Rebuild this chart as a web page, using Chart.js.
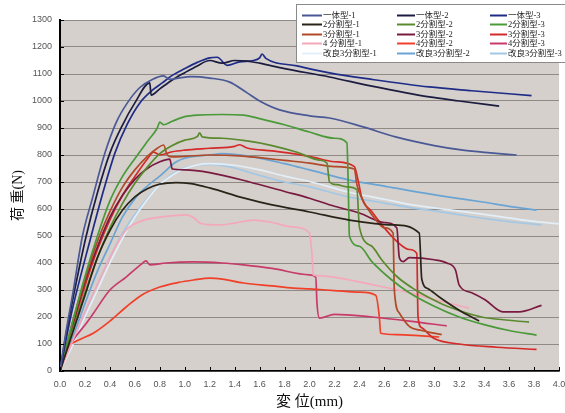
<!DOCTYPE html>
<html>
<head>
<meta charset="utf-8">
<script src="https://cdn.jsdelivr.net/npm/chart.js@4.4.1/dist/chart.umd.min.js"></script>
<style>
  html, body { margin: 0; padding: 0; background: #ffffff; }
  #wrap { width: 565px; height: 413px; position: relative; }
</style>
</head>
<body>
<div id="wrap"><canvas id="c" width="565" height="413"></canvas></div>
<script>
// Load–displacement curves (displacement in mm, load in N)

// 一体型
const disp_ittai_1 = [0,0.05,0.1,0.18,0.26,0.36,0.45,0.54,0.64,0.74,0.83,0.88,0.95,1.05,1.2,1.36,1.5,1.6,1.76,2.0,2.16,2.43,2.69,3.0,3.23,3.45,3.66];
const load_ittai_1 = [0,150,280,500,640,807,920,993,1050,1080,1093,1080,1085,1090,1085,1070,1030,1000,967,945,937,904,867,835,818,808,800];
const disp_ittai_2 = [0,0.05,0.1,0.21,0.3,0.4,0.5,0.6,0.72,0.73,0.8,0.9,1.0,1.1,1.2,1.3,1.4,1.5,1.6,1.8,2.16,2.5,2.96,3.2,3.52];
const load_ittai_2 = [0,140,260,500,660,807,910,993,1067,1022,1045,1078,1105,1130,1150,1140,1150,1148,1140,1120,1089,1055,1015,1000,981];
const disp_ittai_3 = [0,0.05,0.1,0.25,0.35,0.44,0.54,0.64,0.74,0.82,0.9,1.0,1.1,1.2,1.26,1.34,1.44,1.55,1.6,1.62,1.65,1.9,2.16,2.5,2.96,3.3,3.78];
const load_ittai_3 = [0,120,230,500,670,807,915,993,1040,1067,1095,1120,1143,1160,1162,1132,1145,1150,1160,1174,1158,1130,1104,1080,1052,1038,1020];

// 2分割型
const disp_bun2_1 = [0,0.05,0.1,0.2,0.3,0.4,0.5,0.6,0.7,0.8,0.93,1.05,1.2,1.47,1.7,2.0,2.32,2.67,2.88,2.9,2.95,3.04,3.2,3.36];
const load_bun2_1 = [0,70,140,280,420,520,595,645,675,692,698,694,678,641,615,589,559,541,511,340,305,274,225,185];
const disp_bun2_2 = [0,0.05,0.1,0.2,0.3,0.4,0.5,0.6,0.7,0.8,0.9,1.0,1.1,1.12,1.14,1.3,1.5,1.7,1.9,2.08,2.14,2.16,2.22,2.3,2.38,2.4,2.5,2.58,2.7,2.85,3.0,3.12,3.38,3.6,3.76];
const load_bun2_2 = [0,75,150,290,420,530,620,695,755,805,835,855,868,882,867,862,852,835,810,781,770,700,690,682,672,533,462,411,350,300,262,237,200,188,181];
const disp_bun2_3 = [0,0.05,0.1,0.2,0.3,0.4,0.5,0.61,0.7,0.78,0.8,0.83,0.9,1.0,1.1,1.3,1.47,1.6,1.8,2.0,2.2,2.3,2.31,2.32,2.4,2.5,2.66,2.8,3.0,3.2,3.4,3.6,3.82];
const load_bun2_3 = [0,90,180,350,500,630,720,793,850,900,922,912,925,942,948,950,948,935,912,885,862,845,700,500,462,405,337,290,240,200,172,150,133];

// 3分割型
const disp_bun3_1 = [0,0.05,0.1,0.2,0.3,0.4,0.5,0.6,0.7,0.78,0.83,0.86,0.9,1.0,1.2,1.44,1.6,1.8,2.0,2.2,2.36,2.38,2.42,2.53,2.6,2.67,2.68,2.72,2.8,2.9,3.0,3.06];
const load_bun3_1 = [0,90,180,340,480,590,680,745,795,825,837,800,793,795,800,797,790,780,770,757,748,690,640,560,530,511,300,215,165,150,140,135];
const disp_bun3_2 = [0,0.1,0.2,0.3,0.4,0.5,0.6,0.7,0.8,0.88,0.9,1.0,1.2,1.52,1.8,2.0,2.2,2.4,2.6,2.7,2.72,2.75,2.8,3.0,3.1,3.17,3.2,3.3,3.41,3.55,3.68,3.86];
const load_bun3_2 = [0,170,330,460,570,650,710,750,775,785,748,745,735,700,665,640,610,585,550,530,420,405,420,412,400,374,318,290,263,219,219,243];
const disp_bun3_3 = [0,0.05,0.1,0.2,0.3,0.4,0.5,0.6,0.7,0.75,0.8,0.9,1.0,1.2,1.4,1.44,1.5,1.7,2.0,2.2,2.36,2.39,2.42,2.5,2.6,2.7,2.8,2.86,2.87,2.9,3.0,3.2,3.5,3.82];
const load_bun3_3 = [0,80,160,315,450,560,650,720,785,811,800,812,818,825,832,838,826,815,795,775,757,705,640,590,530,480,450,435,200,160,120,100,88,80];

// 4分割型
const disp_bun4_1 = [0,0.05,0.1,0.2,0.3,0.4,0.53,0.65,0.8,0.9,1.01,1.08,1.12,1.2,1.28,1.4,1.55,1.7,1.87,2.0,2.02,2.03,2.1,2.24,2.5,2.8,3.0,3.28];
const load_bun4_1 = [0,55,110,220,320,420,522,555,570,575,578,565,548,542,541,548,559,550,533,511,430,356,352,344,320,290,265,233];
const disp_bun4_2 = [0,0.03,0.08,0.15,0.27,0.4,0.53,0.65,0.8,0.95,1.07,1.2,1.3,1.47,1.7,1.87,2.0,2.2,2.4,2.53,2.56,2.57,2.7,2.9,3.04];
const load_bun4_2 = [0,60,96,115,141,185,237,280,311,328,337,344,340,326,315,307,304,298,292,281,200,140,135,130,126];
const disp_bun4_3 = [0,0.05,0.1,0.2,0.27,0.4,0.53,0.65,0.69,0.72,0.85,1.07,1.3,1.47,1.7,2.0,2.05,2.06,2.08,2.2,2.5,2.8,3.1];
const load_bun4_3 = [0,60,110,170,215,300,348,395,408,393,400,404,400,393,380,356,348,250,196,210,200,185,167];

// 改良3分割型
const disp_kai3_1 = [0,0.1,0.2,0.3,0.4,0.5,0.6,0.7,0.8,0.9,1.0,1.2,1.4,1.6,1.8,2.0,2.32,2.6,2.8,3.12,3.4,3.7,4.0];
const load_kai3_1 = [0,95,200,300,400,490,570,635,690,725,750,768,762,745,722,702,662,636,617,597,580,560,545];
const disp_kai3_2 = [0,0.1,0.2,0.3,0.4,0.5,0.61,0.7,0.8,0.93,1.0,1.2,1.3,1.52,1.8,2.0,2.32,2.6,2.8,3.12,3.4,3.6,3.82];
const load_kai3_2 = [0,120,250,370,470,570,644,685,722,774,788,800,805,795,768,745,707,685,668,644,625,610,596];
const disp_kai3_3 = [0,0.1,0.2,0.3,0.4,0.5,0.67,0.8,0.9,1.0,1.2,1.4,1.52,1.8,2.0,2.32,2.6,2.8,3.12,3.4,3.6,3.86];
const load_kai3_3 = [0,105,215,320,420,510,622,690,730,752,765,752,735,700,682,644,622,606,585,565,553,541];

// Series names, in legend order (row by row, three per row)
const seriesNames = [
  '一体型-1', '一体型-2', '一体型-3',
  '2分割型-1', '2分割型-2', '2分割型-3',
  '3分割型-1', '3分割型-2', '3分割型-3',
  '4 分割型-1', '4分割型-2', '4分割型-3',
  '改良3分割型-1', '改良3分割型-2', '改良3分割型-3'
];
const seriesDisp = [
  disp_ittai_1, disp_ittai_2, disp_ittai_3,
  disp_bun2_1, disp_bun2_2, disp_bun2_3,
  disp_bun3_1, disp_bun3_2, disp_bun3_3,
  disp_bun4_1, disp_bun4_2, disp_bun4_3,
  disp_kai3_1, disp_kai3_2, disp_kai3_3
];
const seriesLoad = [
  load_ittai_1, load_ittai_2, load_ittai_3,
  load_bun2_1, load_bun2_2, load_bun2_3,
  load_bun3_1, load_bun3_2, load_bun3_3,
  load_bun4_1, load_bun4_2, load_bun4_3,
  load_kai3_1, load_kai3_2, load_kai3_3
];
const seriesColors = [
  '#4a5896', '#1c1c40', '#1e2c88',
  '#2a2418', '#5a8a2e', '#4a9a3a',
  '#b04a28', '#7a1a40', '#d42a2a',
  '#f4a8b8', '#f0402a', '#c83a6a',
  '#e2eff8', '#6aa4d4', '#a4c8e4'
];

// Axis settings
const xMin = 0, xMax = 4, xStep = 0.2;
const yMin = 0, yMax = 1300, yStep = 100;
const xTitle = '変 位(mm)';
const yTitle = '荷 重(N)';

const datasets = seriesNames.map((name, i) => ({
  label: name,
  data: seriesDisp[i].map((x, k) => ({ x: x, y: seriesLoad[i][k] })),
  borderColor: seriesColors[i],
  backgroundColor: seriesColors[i],
  borderWidth: 1.7,
  pointRadius: 0,
  fill: false,
  cubicInterpolationMode: 'monotone'
}));

// Grey plot background
const plotBackground = {
  id: 'plotBackground',
  beforeDraw(chart) {
    const { ctx, chartArea: a } = chart;
    ctx.save();
    ctx.fillStyle = '#d5d0cc';
    ctx.fillRect(a.left, a.top, a.right - a.left, a.bottom - a.top);
    ctx.restore();
  }
};

// Short tick marks pointing into the plot
const innerTicks = {
  id: 'innerTicks',
  afterDatasetsDraw(chart) {
    const { ctx, chartArea: a, scales } = chart;
    ctx.save();
    ctx.strokeStyle = '#000';
    ctx.lineWidth = 1;
    scales.x.ticks.forEach(t => {
      const px = Math.round(scales.x.getPixelForValue(t.value)) + 0.5;
      ctx.beginPath();
      ctx.moveTo(px, a.bottom);
      ctx.lineTo(px, a.bottom - 4);
      ctx.stroke();
    });
    scales.y.ticks.forEach(t => {
      const py = Math.round(scales.y.getPixelForValue(t.value)) + 0.5;
      ctx.beginPath();
      ctx.moveTo(a.left, py);
      ctx.lineTo(a.left + 4, py);
      ctx.stroke();
    });
    ctx.restore();
  }
};

// Three-column legend box in the upper right
const legendBox = {
  id: 'legendBox',
  afterDraw(chart) {
    const { ctx } = chart;
    const boxL = 296, boxT = 4, boxR = 566, boxB = 62;
    const colLine = [[302, 322], [397, 415], [490, 507]];
    const rowY0 = 14.5, rowStep = 9.5;
    ctx.save();
    ctx.fillStyle = '#ffffff';
    ctx.fillRect(boxL, boxT, boxR - boxL, boxB - boxT);
    ctx.strokeStyle = '#8a8a8a';
    ctx.lineWidth = 1;
    ctx.strokeRect(boxL + 0.5, boxT + 0.5, boxR - boxL, boxB - boxT);
    ctx.font = "8.5px 'Liberation Serif', 'Noto Sans CJK JP'";
    ctx.textBaseline = 'middle';
    ctx.textAlign = 'left';
    chart.data.datasets.forEach((ds, i) => {
      const col = i % 3, row = Math.floor(i / 3);
      const y = rowY0 + row * rowStep;
      const [x0, x1] = colLine[col];
      ctx.strokeStyle = ds.borderColor;
      ctx.lineWidth = 2;
      ctx.beginPath();
      ctx.moveTo(x0, Math.round(y) + 0.5);
      ctx.lineTo(x1, Math.round(y) + 0.5);
      ctx.stroke();
      ctx.fillStyle = '#222';
      ctx.fillText(ds.label, x1 + 1, Math.round(y) + 0.5);
    });
    ctx.restore();
  }
};

new Chart(document.getElementById('c'), {
  type: 'line',
  data: { datasets: datasets },
  options: {
    responsive: false,
    animation: false,
    devicePixelRatio: 1,
    layout: { padding: { left: 0, top: 20, right: 6, bottom: 0 } },
    plugins: {
      legend: { display: false },
      tooltip: { enabled: false }
    },
    scales: {
      x: {
        type: 'linear',
        min: xMin, max: xMax,
        grid: { display: true, color: 'rgba(0,0,0,0)', drawTicks: false },
        border: { display: true, color: '#000', width: 1.5 },
        ticks: {
          stepSize: xStep,
          autoSkip: false,
          maxRotation: 0,
          padding: 8,
          color: '#555',
          font: { family: "'Liberation Sans', Arial", size: 9 },
          callback: v => Number(v).toFixed(1)
        },
        title: {
          display: true,
          text: xTitle,
          color: '#111',
          padding: { top: 0, bottom: 2 },
          font: { family: "'Liberation Serif', 'Noto Sans CJK JP'", size: 15 }
        },
        afterFit(scale) {
          scale.height = 42;
          scale.paddingLeft = 0;
          scale.paddingRight = 0;
        }
      },
      y: {
        type: 'linear',
        min: yMin, max: yMax,
        grid: { color: '#8f8a86', lineWidth: 1, drawTicks: false },
        border: { display: true, color: '#000', width: 2 },
        ticks: {
          stepSize: yStep,
          padding: 8,
          color: '#555',
          font: { family: "'Liberation Sans', Arial", size: 9 },
          callback: v => String(v)
        },
        title: {
          display: true,
          text: yTitle,
          color: '#111',
          padding: { top: 10, bottom: 0 },
          font: { family: "'Liberation Serif', 'Noto Sans CJK JP'", size: 14 }
        },
        afterFit(scale) {
          scale.width = 60;
        }
      }
    }
  },
  plugins: [plotBackground, innerTicks, legendBox]
});
</script>
</body>
</html>
